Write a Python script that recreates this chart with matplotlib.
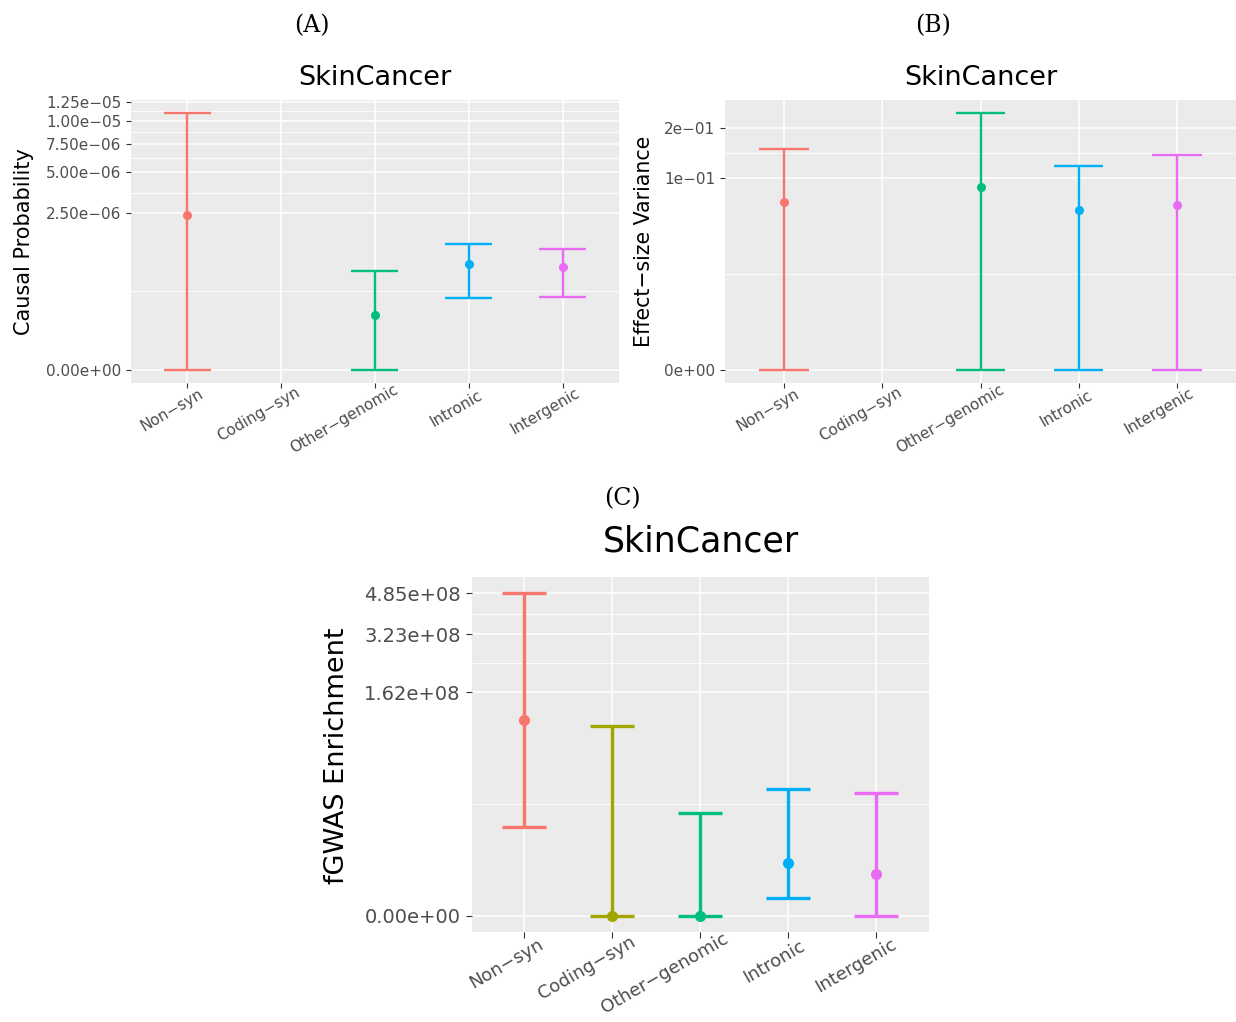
"""SkinCancer annotation panels: causal probability, effect-size variance, fGWAS enrichment."""

import numpy as np
import matplotlib

matplotlib.use("Agg")
from matplotlib import pyplot as plt
from matplotlib.font_manager import FontProperties
from matplotlib.transforms import offset_copy

categories = ["Non−syn", "Coding−syn", "Other−genomic", "Intronic", "Intergenic"]
colors = ["#F8766D", "#A3A500", "#00BF7D", "#00B0F6", "#E76BF3"]

# (A) causal probability
causal_mid = [2.42e-6, np.nan, 1.08e-7, 7.74e-7, 6.96e-7]
causal_lo = [0.0, np.nan, 0.0, 2.39e-7, 2.50e-7]
causal_hi = [1.10e-5, np.nan, 6.24e-7, 1.30e-6, 1.15e-6]
causal_breaks = [0.0, 2.5e-6, 5.0e-6, 7.5e-6, 1.0e-5, 1.25e-5]
causal_labels = ["0.00e+00", "2.50e−06", "5.00e−06", "7.50e−06", "1.00e−05", "1.25e−05"]

# (B) effect-size variance
var_mid = [0.0677, np.nan, 0.0874, 0.0581, 0.0641]
var_lo = [0.0, np.nan, 0.0, 0.0, 0.0]
var_hi = [0.1526, np.nan, 0.241, 0.120, 0.1405]
var_breaks = [0.0, 0.1, 0.2]
var_labels = ["0e+00", "1e−01", "2e−01"]

# (C) fGWAS enrichment
enr_mid = [1.083e8, 0.0, 0.0, 2.14e6, 1.06e6]
enr_lo = [1.009e7, 0.0, 0.0, 8.1e4, 0.0]
enr_hi = [4.85e8, 9.86e7, 1.55e7, 2.95e7, 2.65e7]
enr_breaks = [0.0, 1.62e8, 3.23e8, 4.85e8]
enr_labels = ["0.00e+00", "1.62e+08", "3.23e+08", "4.85e+08"]

W, H = 1236, 1022
fig = plt.figure(figsize=(W / 100, H / 100), dpi=100)


def box(left, top, right, bottom):
    return [left / W, 1 - bottom / H, (right - left) / W, (bottom - top) / H]


def panel(rect, mid, lo, hi, breaks, labels, tick_size, lw, ms, tick_len):
    ax = fig.add_axes(rect)
    ax.set_facecolor("#EBEBEB")
    for s in ax.spines.values():
        s.set_visible(False)
    ax.set_yscale("function", functions=(np.cbrt, lambda v: np.power(v, 3)))

    t_hi = np.cbrt(np.nanmax(hi))
    t_lo = np.cbrt(np.nanmin(lo))
    pad = 0.05 * (t_hi - t_lo)
    ax.set_ylim((t_lo - pad) ** 3, (t_hi + pad) ** 3)
    ax.set_xlim(-0.6, len(categories) - 0.4)

    ax.set_yticks(breaks, labels)
    tb = np.cbrt(np.array(breaks))
    ax.set_yticks(((tb[:-1] + tb[1:]) / 2) ** 3, minor=True)
    ax.set_xticks(range(len(categories)), [""] * len(categories))
    ax.tick_params(which="major", length=tick_len, width=0.8, color="#333333",
                   labelcolor="#4D4D4D", labelsize=tick_size, pad=3.5)
    ax.tick_params(which="minor", length=0)
    ax.set_axisbelow(True)
    ax.grid(which="major", color="white", linewidth=1.1)
    ax.grid(which="minor", axis="y", color="white", linewidth=0.6)

    for i in range(len(categories)):
        if np.isnan(mid[i]):
            continue
        ax.vlines(i, lo[i], hi[i], color=colors[i], linewidth=lw)
        ax.hlines([lo[i], hi[i]], i - 0.25, i + 0.25, color=colors[i], linewidth=lw)
        ax.plot(i, mid[i], "o", color=colors[i], markersize=ms, markeredgewidth=0)
    return ax


def cat_labels(ax, size, drop):
    # rotated labels pivot ~82% along the text, like the old ggplot output
    renderer = fig.canvas.get_renderer()
    prop = FontProperties(size=size)
    c, s = np.cos(np.radians(30)), np.sin(np.radians(30))
    for i, name in enumerate(categories):
        L, _, _ = renderer.get_text_width_height_descent(name, prop, ismath=False)
        tr = offset_copy(ax.get_xaxis_transform(), fig=fig,
                         x=0.18 * L * c, y=0.18 * L * s - drop, units="dots")
        ax.text(i, 0, name, transform=tr, rotation=30, rotation_mode="anchor",
                ha="right", va="top", fontsize=size, color="#4D4D4D")


ax_a = panel(box(130.7, 100, 619, 382.7), causal_mid, causal_lo, causal_hi,
             causal_breaks, causal_labels, 11, 1.7, 6.5, 3.4)
ax_b = panel(box(725, 100, 1236, 382.7), var_mid, var_lo, var_hi,
             var_breaks, var_labels, 11, 1.7, 6.5, 3.4)
ax_c = panel(box(471.7, 577.3, 929, 931.8), enr_mid, enr_lo, enr_hi,
             enr_breaks, enr_labels, 14, 2.4, 8, 4.5)

cat_labels(ax_a, 11, 10)
cat_labels(ax_b, 11, 10)
cat_labels(ax_c, 13, 11)

fig.text(374.9 / W, 1 - 85 / H, "SkinCancer", ha="center", va="baseline", fontsize=19.5)
fig.text(980.5 / W, 1 - 85 / H, "SkinCancer", ha="center", va="baseline", fontsize=19.5)
fig.text(700.4 / W, 1 - 551 / H, "SkinCancer", ha="center", va="baseline", fontsize=25)

fig.text(24 / W, 1 - 241.3 / H, "Causal Probability", rotation=90,
         ha="center", va="center", fontsize=15)
fig.text(644 / W, 1 - 241.3 / H, "Effect−size Variance", rotation=90,
         ha="center", va="center", fontsize=14.8)
fig.text(337.5 / W, 1 - 755.5 / H, "fGWAS Enrichment", rotation=90,
         ha="center", va="center", fontsize=19.5)

for x, y, tag in [(312, 26, "(A)"), (933, 26, "(B)"), (622, 499, "(C)")]:
    fig.text(x / W, 1 - y / H, tag, family="DejaVu Serif", ha="center",
             va="center", fontsize=17)

fig.savefig("out.png", dpi=100)
plt.close(fig)
